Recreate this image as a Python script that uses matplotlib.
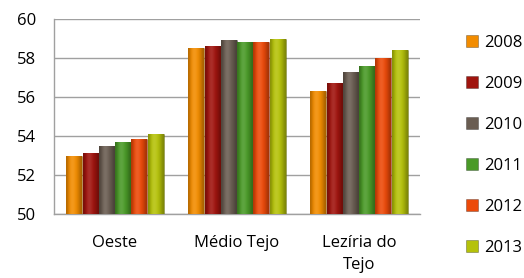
import matplotlib
matplotlib.use("Agg")
import matplotlib.pyplot as plt
import matplotlib.colors as mcolors
import numpy as np

regions = ["Oeste", "Médio Tejo", "Lezíria do\nTejo"]
years = ["2008", "2009", "2010", "2011", "2012", "2013"]
v2008 = [52.95, 58.5, 56.3]
v2009 = [53.15, 58.6, 56.7]
v2010 = [53.5, 58.9, 57.3]
v2011 = [53.7, 58.8, 57.6]
v2012 = [53.85, 58.8, 58.0]
v2013 = [54.1, 59.0, 58.4]
series = [v2008, v2009, v2010, v2011, v2012, v2013]
colors = ["#F28C00", "#A0140E", "#6A5D52", "#4A9A28", "#EC4A0A", "#B5C20A"]

plt.rcParams['font.family'] = ['Open Sans', 'DejaVu Sans']


def shade(c, f):
    r = np.array(mcolors.to_rgb(c))
    if f >= 0:
        return r + (1 - r) * f
    return r * (1 + f)


fig = plt.figure(figsize=(5.24, 2.78), dpi=100)
ax = fig.add_axes([54 / 524, 1 - 214 / 278, (420 - 54) / 524, (214 - 19) / 278])

x = np.arange(len(regions))
w = 0.8 / len(years)
prof = np.array([-0.25, -0.05, 0.1, 0.12, 0.05, -0.05, -0.15, -0.3])
for i, (vals, c) in enumerate(zip(series, colors)):
    pos = x - 0.4 + w * (i + 0.5)
    bars = ax.bar(pos, np.array(vals) - 50, bottom=50, width=w * 0.98, color=c,
                  edgecolor="#00000050", linewidth=0.6, label=years[i], zorder=3)
    grad = np.array([[shade(c, f) for f in prof]])
    for b in bars:
        bx, by = b.get_x(), b.get_y()
        im = ax.imshow(grad, extent=(bx, bx + b.get_width(), by, by + b.get_height()),
                       aspect="auto", zorder=3.5, interpolation="bicubic")
        im.set_clip_path(b)

ax.set_ylim(50, 60)
ax.set_xlim(-0.5, 2.5)
ax.set_yticks(range(50, 61, 2))
ax.set_xticks(x)
ax.set_xticklabels(regions, linespacing=1.55)
ax.tick_params(axis="both", length=0, labelsize=12, colors="#000000")
ax.tick_params(axis="x", pad=15)
ax.tick_params(axis="y", pad=13)
ax.grid(axis="y", color="#A0A0A0", linewidth=1, zorder=0)
for s in ["top", "right"]:
    ax.spines[s].set_visible(False)
for s in ["left", "bottom"]:
    ax.spines[s].set_color("#A0A0A0")
    ax.spines[s].set_linewidth(1)

leg = fig.legend(loc="upper left", bbox_to_anchor=(459 / 524, 1 - 28 / 278), frameon=False,
                 fontsize=12, handlelength=0.75, handleheight=0.75, handletextpad=0.35,
                 labelspacing=1.5, borderaxespad=0)

fig.savefig("out.png", dpi=100)
